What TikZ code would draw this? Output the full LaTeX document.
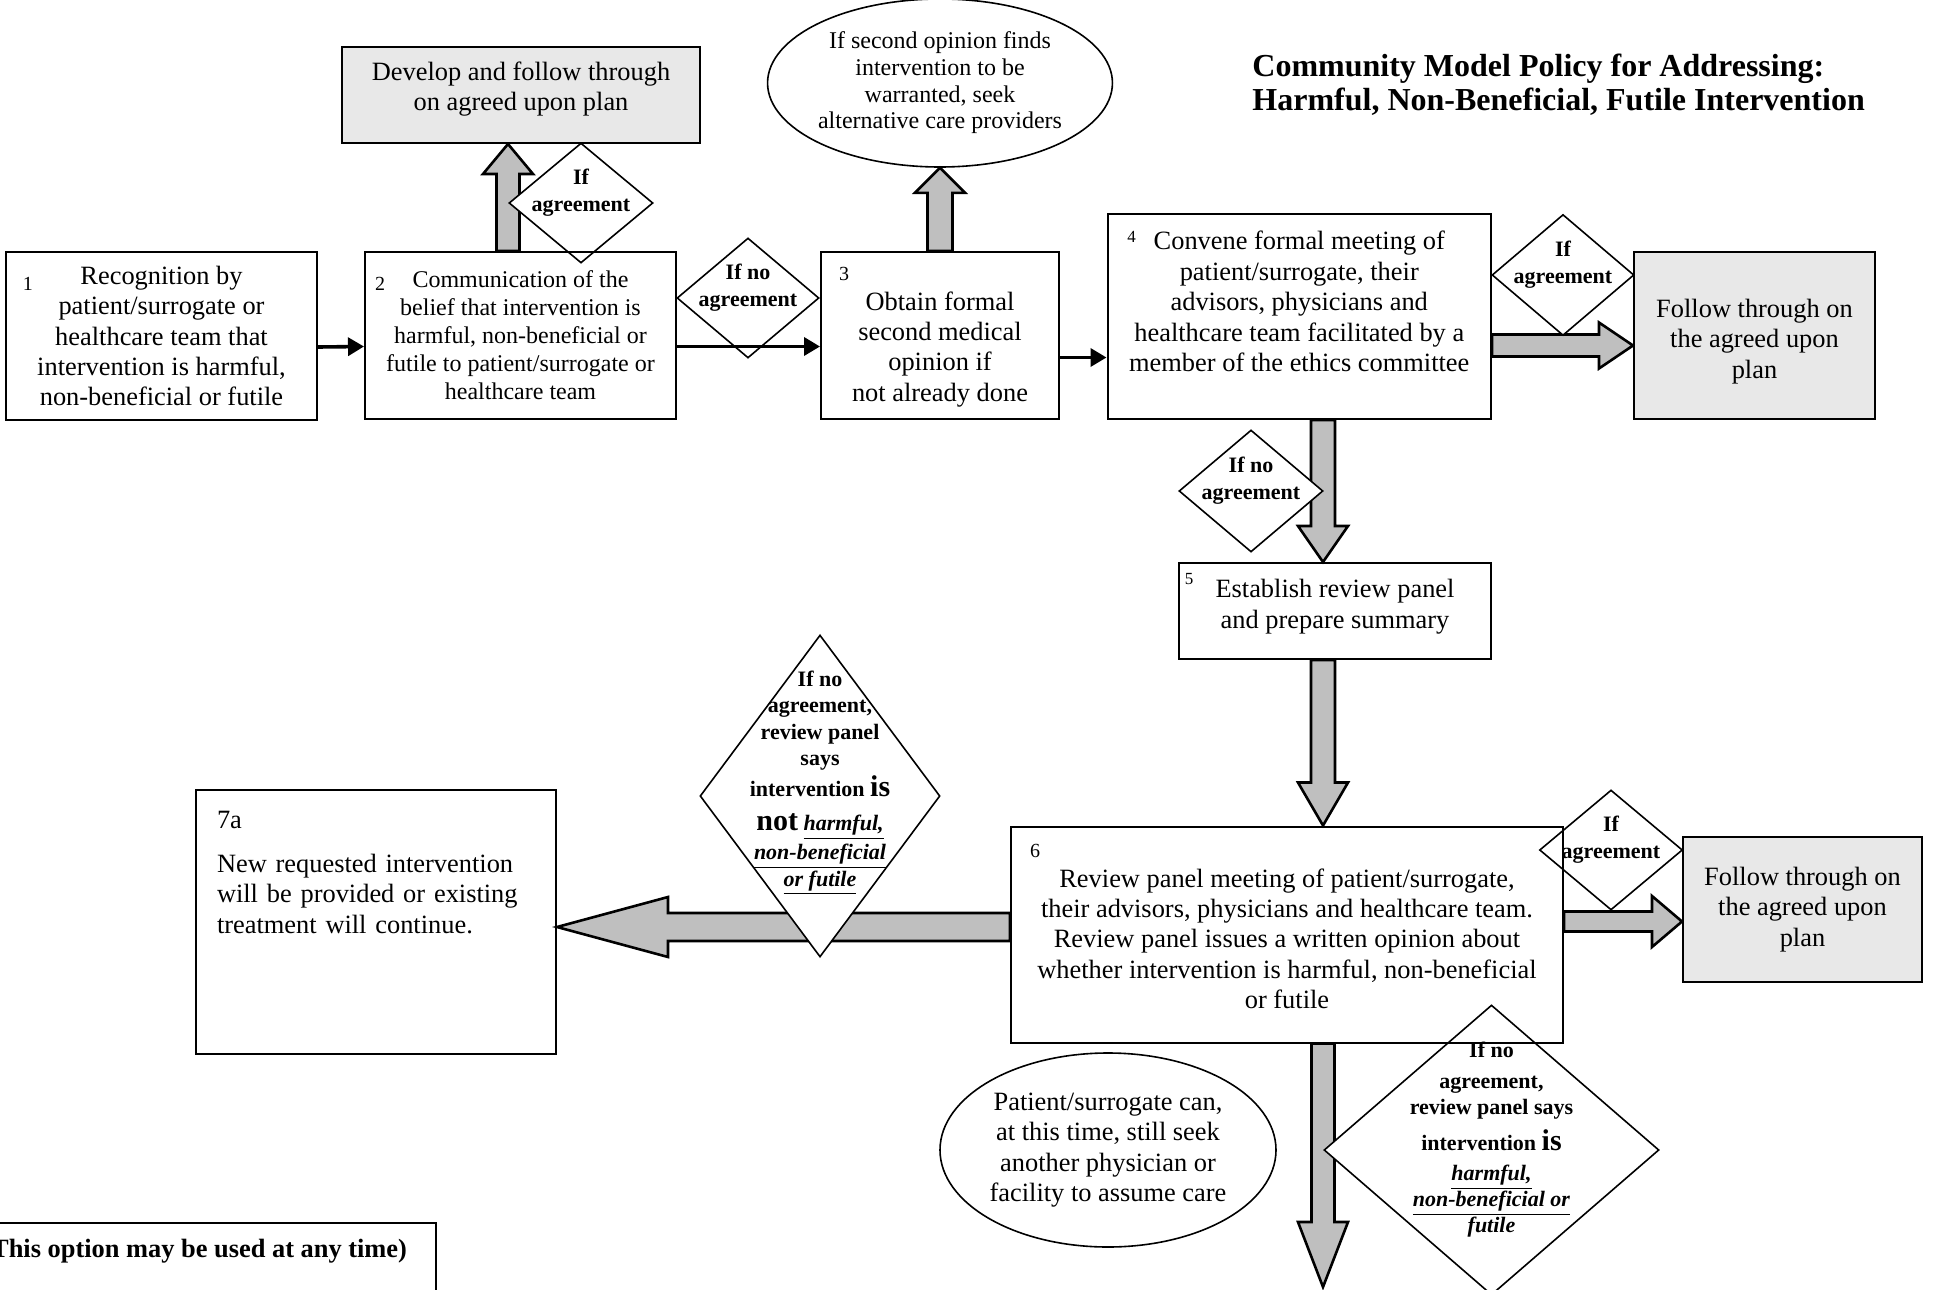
\documentclass[tikz,border=0pt]{standalone}
\usepackage{fontspec}
\setmainfont{Liberation Serif}
\usetikzlibrary{calc,shapes.geometric,backgrounds,arrows.meta}

\newcommand{\fatarrow}[5]{%
  \coordinate (fas) at (#1);
  \coordinate (fae) at (#2);
  \coordinate (fac) at ($(fae)!#5pt!(fas)$);
  \draw[fat] ($(fas)!#3pt!90:(fae)$) -- ($(fac)!#3pt!-90:(fas)$)
    -- ($(fac)!#4pt!-90:(fas)$) -- (fae)
    -- ($(fac)!#4pt!90:(fas)$) -- ($(fac)!#3pt!90:(fas)$)
    -- ($(fas)!#3pt!-90:(fae)$) -- cycle;
}
\newcommand{\bigword}[1]{{\fontsize{15}{15}\selectfont #1}}
\newcommand{\ubi}[1]{\underline{\textit{#1}}}

\begin{document}
\begin{tikzpicture}[x=0.5pt,y=-0.5pt,
box/.style={draw,rectangle,line width=1pt,inner sep=0pt,align=center,font=\fontsize{13.2}{15.2}\selectfont},
plan/.style={box,fill=gray!18},
cond/.style={draw,diamond,fill=white,line width=0.8pt,inner sep=0pt},
condtext/.style={align=center,yshift=5pt,font=\bfseries\fontsize{11}{13.5}\selectfont},
ell/.style={draw,ellipse,line width=0.8pt,inner sep=0pt,align=center,font=\fontsize{13.2}{15.2}\selectfont},
num/.style={inner sep=0pt,font=\fontsize{10}{10}\selectfont},
numsmall/.style={inner sep=0pt,font=\fontsize{8.5}{8.5}\selectfont},
flow/.style={line width=1.8pt,-{Triangle[length=8pt,width=9pt]}},
fat/.style={draw,line width=1.3pt,fill=gray!50,line join=miter}]
\useasboundingbox (0,0) rectangle (1944,1290);
\clip (0,0) rectangle (1944,1290);

\node[cond,minimum width=72pt,minimum height=60pt,
    label={[condtext]center:If\\agreement}] (agr1) at (581,203) {};
\node[cond,minimum width=71pt,minimum height=60pt,
    label={[condtext]center:If no\\agreement}] (noagr1) at (748,298) {};
\node[cond,minimum width=71pt,minimum height=60.5pt,
    label={[condtext]center:If\\agreement}] (agr2) at (1563,275) {};
\node[cond,minimum width=72pt,minimum height=61pt,
    label={[condtext]center:If no\\agreement}] (noagr2) at (1251,491) {};
\node[cond,minimum width=71.5pt,minimum height=60pt,
    label={[condtext]center:If\\agreement}] (agr3) at (1611,850) {};
\node[cond,minimum width=120pt,minimum height=161pt,
    label={[condtext,yshift=1.5pt,font=\bfseries\fontsize{11}{13.25}\selectfont]center:If no\\agreement,\\review panel\\says\\[2.25pt]intervention \bigword{is}\\[3.75pt]\bigword{not} \ubi{harmful,}\\[1.25pt]\ubi{non-beneficial}\\\ubi{or futile}}] (notfut) at (820,796) {};
\node[cond,minimum width=167.5pt,minimum height=145pt,
    label={[condtext,font=\bfseries\fontsize{11}{13}\selectfont]center:If no\\[2.5pt]agreement,\\review panel says\\[5pt]intervention \bigword{is}\\[2pt]\ubi{harmful,}\\\ubi{non-beneficial or}\\\textit{futile}}] (isfut) at (1491.5,1150) {};

\node[ell,minimum width=168pt,minimum height=84pt,font=\fontsize{12}{13.3}\selectfont] (seek) at (940,83)
    {If second opinion finds\\intervention to be\\warranted, seek\\alternative care providers};
\node[ell,minimum width=168pt,minimum height=97pt] (other) at (1108,1150)
    {Patient/surrogate can,\\at this time, still seek\\another physician or\\facility to assume care};

\node[box,minimum width=155.5pt,minimum height=84pt] (b1) at (161.5,336)
    {Recognition by\\patient/surrogate or\\healthcare team that\\intervention is harmful,\\non-beneficial or futile};
\node[box,minimum width=155.5pt,minimum height=83.5pt,font=\fontsize{12}{14}\selectfont] (b2) at (520.5,335.5)
    {Communication of the\\belief that intervention is\\harmful, non-beneficial or\\futile to patient/surrogate or\\healthcare team};
\node[box,minimum width=119pt,minimum height=83.5pt] (b3) at (940,335.5)
    {\rule{0pt}{23pt}Obtain formal\\second medical\\opinion if\\not already done};
\node[plan,minimum width=179pt,minimum height=48pt] (dev) at (521,95)
    {Develop and follow through\\on agreed upon plan\rule[-9pt]{0pt}{0pt}};
\node[box,minimum width=191.75pt,minimum height=102.5pt] (b4) at (1299.25,316.5)
    {Convene formal meeting of\\patient/surrogate, their\\advisors, physicians and\\healthcare team facilitated by a\\member of the ethics committee\rule[-15pt]{0pt}{0pt}};
\node[plan,minimum width=120.5pt,minimum height=83.5pt] (fol1) at (1754.5,335.5)
    {\rule{0pt}{15pt}Follow through on\\the agreed upon\\plan};
\node[box,minimum width=156pt,minimum height=48pt] (b5) at (1335,611)
    {Establish review panel\\and prepare summary\rule[-7pt]{0pt}{0pt}};
\node[box,minimum width=276pt,minimum height=108pt] (b6) at (1287,934.5)
    {\rule{0pt}{13.5pt}Review panel meeting of patient/surrogate,\\their advisors, physicians and healthcare team.\\Review panel issues a written opinion about\\whether intervention is harmful, non-beneficial\\or futile};
\node[plan,minimum width=119.5pt,minimum height=72.5pt] (fol2) at (1802.5,909.5)
    {Follow through on\\the agreed upon\\plan};
\node[box,minimum width=180pt,minimum height=132pt,text width=159pt,align=left] (b7a) at (376,922)
    {7a\\[7pt]New requested intervention\\will be provided or existing\\treatment will continue.\rule[-50pt]{0pt}{0pt}};
\node[box,anchor=north east,inner xsep=14.5pt,inner ysep=8pt,text depth=40pt,font=\bfseries\fontsize{13.2}{15.2}\selectfont] (opt) at (437,1222)
    {(This option may be used at any time)};

\node[num] (n1) at ($(b1.north west)+(23,33)$) {1};
\node[num] (n2) at ($(b2.north west)+(16,33)$) {2};
\node[num] (n3) at ($(b3.north west)+(24,23)$) {3};
\node[numsmall] (n4) at ($(b4.north west)+(25,24)$) {4};
\node[numsmall] (n5) at ($(b5.north west)+(11,17)$) {5};
\node[num] (n6) at ($(b6.north west)+(25,25)$) {6};

\node[anchor=west,align=left,inner sep=0pt,font=\bfseries\fontsize{16}{17}\selectfont] (title) at (1252,85)
    {Community Model Policy for Addressing:\\Harmful, Non-Beneficial, Futile Intervention};

\draw[flow] ($(b1.east)+(0,11)$) -- ($(b2.west)+(0,11)$);
\draw[flow] ($(b2.east)+(0,11)$) -- ($(b3.west)+(0,11)$);
\coordinate (r3) at ($(b3.east)+(0,22)$);
\draw[flow] (r3) -- (r3 -| b4.west);

\coordinate (up2) at (508,0);
\coordinate (spine) at (1323,0);
\coordinate (exit) at (1323,1287);
\begin{scope}[on background layer]
\fatarrow{b2.north -| up2}{dev.south -| up2}{5.75}{12.5}{15}
\fatarrow{b3.north}{seek.south}{6.25}{12.5}{12.5}
\fatarrow{$(b4.east |- fol1.west)+(0,10)$}{$(fol1.west)+(0,10)$}{5.5}{11.5}{17}
\fatarrow{b4.south -| spine}{b5.north -| spine}{6}{12.5}{18}
\fatarrow{b5.south -| spine}{b6.north -| spine}{6}{12.5}{21.5}
\fatarrow{$(b6.east |- fol2.west)+(0,12)$}{$(fol2.west)+(0,12)$}{5}{12.75}{15}
\fatarrow{$(b6.west |- b7a.east)+(0,5)$}{$(b7a.east)+(0,5)$}{7}{15}{55.5}
\fatarrow{b6.south -| spine}{exit}{5.75}{12.5}{32.5}
\end{scope}
\end{tikzpicture}
\end{document}
